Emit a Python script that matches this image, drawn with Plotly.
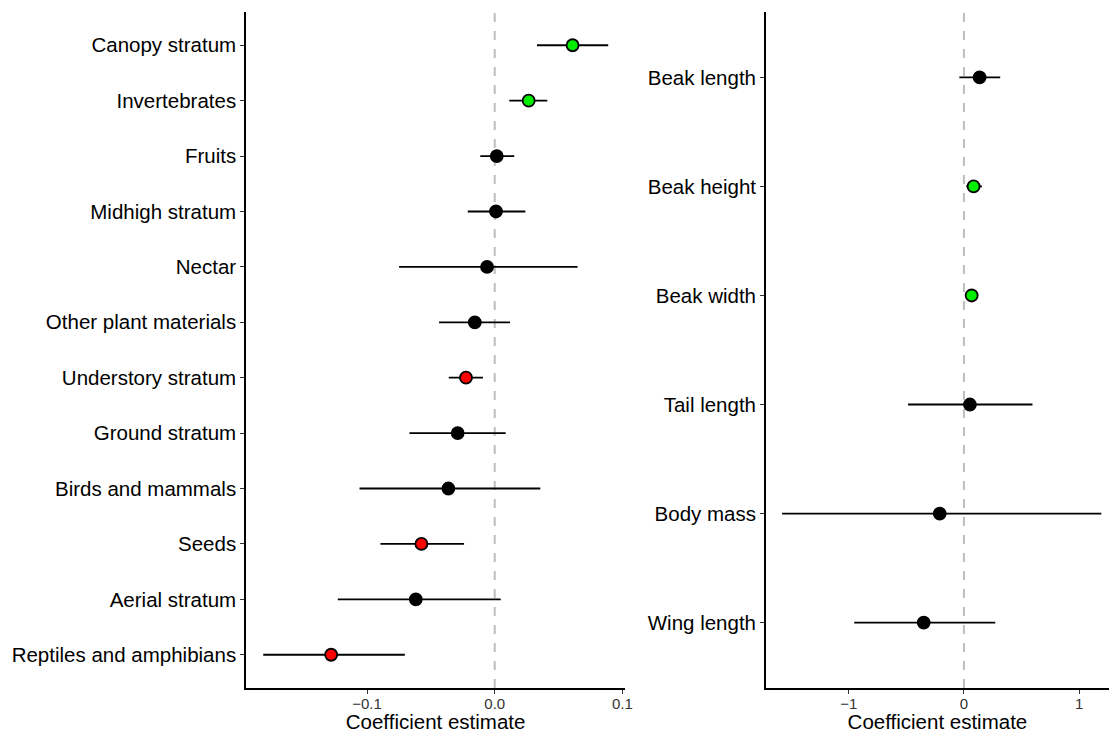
import plotly.graph_objects as go

# Left panel data (top to bottom)
diet_labels = ["Canopy stratum", "Invertebrates", "Fruits", "Midhigh stratum", "Nectar",
               "Other plant materials", "Understory stratum", "Ground stratum",
               "Birds and mammals", "Seeds", "Aerial stratum", "Reptiles and amphibians"]
diet_est = [0.061, 0.0266, 0.0016, 0.001, -0.006, -0.0156, -0.0225, -0.029, -0.0363, -0.0574, -0.0618, -0.1281]
diet_low = [0.0331, 0.0114, -0.0113, -0.0211, -0.0749, -0.0436, -0.036, -0.0668, -0.1059, -0.0895, -0.1229, -0.1813]
diet_high = [0.0889, 0.0412, 0.0153, 0.024, 0.0649, 0.012, -0.0092, 0.0086, 0.0357, -0.024, 0.0047, -0.0704]
diet_colors = ["#00EE00", "#00EE00", "black", "black", "black", "black", "#FF0000", "black",
               "black", "#FF0000", "black", "#FF0000"]

# Right panel data (top to bottom)
morph_labels = ["Beak length", "Beak height", "Beak width", "Tail length", "Body mass", "Wing length"]
morph_est = [0.136, 0.084, 0.067, 0.052, -0.21, -0.349]
morph_low = [-0.04, 0.021, 0.035, -0.485, -1.578, -0.952]
morph_high = [0.315, 0.156, 0.10, 0.595, 1.192, 0.272]
morph_colors = ["black", "#00EE00", "#00EE00", "black", "black", "black"]

fig = go.Figure()

def add_panel(labels, est, low, high, colors, xa, ya):
    fig.add_trace(go.Scatter(
        x=est, y=labels, mode="markers",
        xaxis=xa, yaxis=ya,
        marker=dict(size=12, color=colors, line=dict(color="black", width=1.8)),
        error_x=dict(type="data", symmetric=False,
                     array=[h - e for h, e in zip(high, est)],
                     arrayminus=[e - l for e, l in zip(est, low)],
                     width=0, thickness=1.8, color="black"),
        showlegend=False, hoverinfo="skip"))

add_panel(diet_labels, diet_est, diet_low, diet_high, diet_colors, "x", "y")
add_panel(morph_labels, morph_est, morph_low, morph_high, morph_colors, "x2", "y2")

font_family = "Liberation Sans, Arial, sans-serif"
axis_common = dict(showline=True, linecolor="black", linewidth=1.5, showgrid=False, zeroline=False,
                   ticks="outside", ticklen=4, tickcolor="#333333", tickwidth=1)

fig.update_layout(
    width=1117, height=733,
    margin=dict(l=246, r=0, t=12, b=45),
    plot_bgcolor="white", paper_bgcolor="white",
    font=dict(family=font_family, color="black"),
    xaxis=dict(domain=[0, 0.4394], range=[-0.1948, 0.1022],
               tickvals=[-0.1, 0.0, 0.1], ticktext=["\u22120.1", "0.0", "0.1"],
               tickfont=dict(size=15, color="#333333"), ticklabelstandoff=-3,
               title=dict(text="Coefficient estimate", font=dict(size=20.5), standoff=2),
               **axis_common),
    yaxis=dict(type="category", categoryorder="array", categoryarray=diet_labels[::-1],
               range=[-0.6, len(diet_labels) - 0.4], anchor="x",
               tickfont=dict(size=20.5, color="black"), **axis_common),
    xaxis2=dict(domain=[0.6024, 1], range=[-1.719, 1.259], anchor="y2",
                tickvals=[-1, 0, 1], ticktext=["\u22121", "0", "1"],
                tickfont=dict(size=15, color="#333333"), ticklabelstandoff=-3,
                title=dict(text="Coefficient estimate", font=dict(size=20.5), standoff=2),
                **axis_common),
    yaxis2=dict(type="category", categoryorder="array", categoryarray=morph_labels[::-1],
                range=[-0.6, len(morph_labels) - 0.4], anchor="x2",
                tickfont=dict(size=20.5, color="black"), **axis_common),
    shapes=[
        dict(type="line", xref="x", yref="y domain", x0=0, x1=0, y0=0, y1=1,
             line=dict(color="#BEBEBE", width=2, dash="dash"), layer="below"),
        dict(type="line", xref="x2", yref="y2 domain", x0=0, x1=0, y0=0, y1=1,
             line=dict(color="#BEBEBE", width=2, dash="dash"), layer="below"),
    ],
)

fig.write_html("out.html")
